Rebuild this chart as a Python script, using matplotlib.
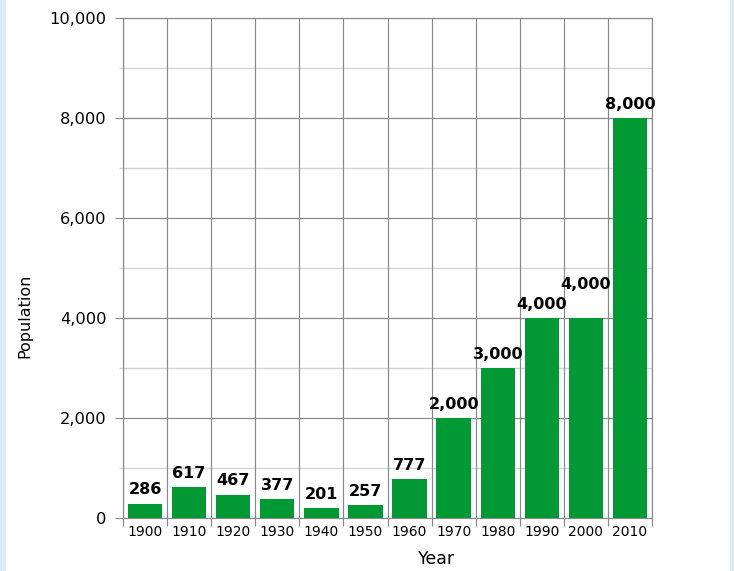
import matplotlib
matplotlib.use("Agg")
import matplotlib.pyplot as plt
from matplotlib.patches import Rectangle
import numpy as np

years = ["1900", "1910", "1920", "1930", "1940", "1950", "1960",
         "1970", "1980", "1990", "2000", "2010"]
population = [286, 617, 467, 377, 201, 257, 777, 2000, 3000, 4000, 4000, 8000]
y_major = [0, 2000, 4000, 6000, 8000, 10000]
y_minor = [1000, 3000, 5000, 7000, 9000]

BAR_COLOR = "#009933"
GRID_DARK = "#888888"
GRID_LIGHT = "#d4d4d4"
SIDE_BLUE = "#d9edf5"

plt.rcParams['font.family'] = ['DejaVu Sans']

W, H = 734, 571
fig = plt.figure(figsize=(W / 100, H / 100), dpi=100, facecolor="white")

# light blue side strips
fig.patches.append(Rectangle((0, 0), 6 / W, 1, transform=fig.transFigure,
                             facecolor=SIDE_BLUE, edgecolor="none", zorder=0))
fig.patches.append(Rectangle((730 / W, 0), 4 / W, 1, transform=fig.transFigure,
                             facecolor=SIDE_BLUE, edgecolor="none", zorder=0))

left, right, top, bottom = 123, 652, 18, 518
ax = fig.add_axes([left / W, (H - bottom) / H, (right - left) / W, (bottom - top) / H])
ax.set_facecolor("white")

n = len(years)
x = np.arange(n)
ax.set_xlim(-0.5, n - 0.5)
ax.set_ylim(0, 10000)

LW = 0.85
# grid lines
for v in y_minor:
    ax.axhline(v, color=GRID_LIGHT, lw=1.0, zorder=1)
for v in y_major:
    ax.axhline(v, color=GRID_DARK, lw=LW, zorder=1.5)
for b in np.arange(n + 1) - 0.5:
    ax.axvline(b, color=GRID_DARK, lw=LW, zorder=1.5)

ax.bar(x, population, width=0.78, color=BAR_COLOR, zorder=3)

for i, v in enumerate(population):
    extra = 14 if (i > 0 and population[i - 1] == v) else 0
    ax.annotate(f"{v:,}", xy=(x[i], v), xytext=(0, 4.5 + extra),
                textcoords="offset points", ha="center", va="bottom",
                fontsize=11.5, fontweight="bold", color="black", zorder=4)

for s in ax.spines.values():
    s.set_color(GRID_DARK)
    s.set_linewidth(LW)

ax.set_yticks(y_major)
ax.set_yticklabels([f"{v:,}" for v in y_major])
ax.set_yticks(y_minor, minor=True)
ax.tick_params(axis="y", which="major", length=5.8, width=LW, color=GRID_DARK,
               labelsize=11.7, pad=6)
ax.tick_params(axis="y", which="minor", length=3, width=1.0, color=GRID_LIGHT)

ax.set_xticks(x)
ax.set_xticklabels(years)
ax.set_xticks(np.arange(n + 1) - 0.5, minor=True)
ax.tick_params(axis="x", which="major", length=0, labelsize=10, pad=5)
ax.tick_params(axis="x", which="minor", length=5.8, width=LW, color=GRID_DARK)

fig.text(25 / W, 1 - 316 / H, "Population", rotation=90, ha="center", va="center",
         fontsize=11.5, color="black")
fig.text(437 / W, 1 - 559 / H, "Year", ha="center", va="center",
         fontsize=12.5, color="black")

fig.savefig("out.png", dpi=100, facecolor="white")
